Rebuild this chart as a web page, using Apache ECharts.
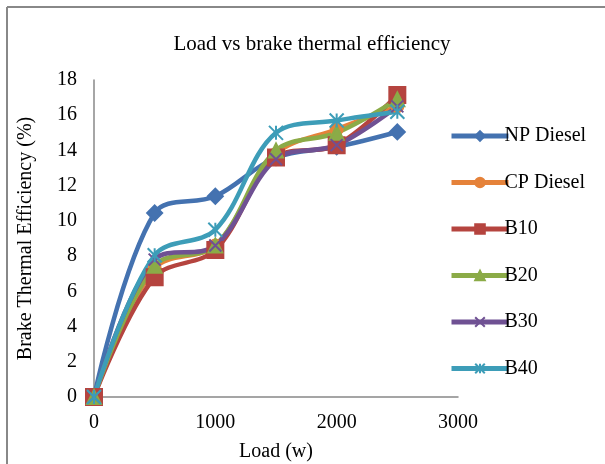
<!DOCTYPE html>
<html>
<head>
<meta charset="utf-8">
<script src="https://cdn.jsdelivr.net/npm/echarts@6/dist/echarts.min.js"></script>
<style>
  html, body { margin: 0; padding: 0; background: #fff; }
  #chart { width: 605px; height: 464px; }
</style>
</head>
<body>
<div id="chart"></div>
<script>
// load steps (w)
const loads = [0, 500, 1000, 1500, 2000, 2500];

// brake thermal efficiency (%) per fuel
const npDiesel = [0, 10.45, 11.4, 13.6, 14.2, 15.05];
const cpDiesel = [0, 7.3, 8.6, 13.8, 15.2, 16.5];
const b10 = [0, 6.8, 8.35, 13.6, 14.3, 17.15];
const b20 = [0, 7.45, 8.6, 14.0, 15.0, 16.9];
const b30 = [0, 7.8, 8.6, 13.5, 14.3, 16.5];
const b40 = [0, 8.05, 9.5, 15.0, 15.7, 16.2];

const seriesDefs = [
    { name: 'NP Diesel', data: npDiesel, color: '#4472b0', symbol: 'diamond', size: 15 },
    { name: 'CP Diesel', data: cpDiesel, color: '#e5823a', symbol: 'circle', size: 12 },
    { name: 'B10', data: b10, color: '#b5443f', symbol: 'rect', size: 16 },
    { name: 'B20', data: b20, color: '#8bab47', symbol: 'triangle', size: 14 },
    { name: 'B30', data: b30, color: '#6f5193', symbol: 'path://M0,0L10,10M10,0L0,10', size: 12 },
    { name: 'B40', data: b40, color: '#3d9db8', symbol: 'path://M0,0L10,10M10,0L0,10M5,0L5,10', size: 14 },
];

const fontFamily = '"Liberation Serif", "DejaVu Serif", serif';
const fontSize = 20;

const chart = echarts.init(document.getElementById('chart'));

chart.setOption({
    animation: false,
    backgroundColor: '#fff',
    textStyle: { fontFamily: fontFamily, color: '#000' },
    title: {
        text: 'Load vs brake thermal efficiency',
        left: 307,
        top: 29,
        textAlign: 'center',
        textStyle: { fontFamily: fontFamily, fontSize: 21, fontWeight: 'normal', color: '#000' },
    },
    grid: { left: 94, right: 147, top: 80, bottom: 67, outerBoundsMode: 'none' },
    legend: {
        orient: 'vertical',
        left: 444,
        top: 121,
        itemWidth: 57,
        itemHeight: 12,
        itemGap: 26.5,
        lineStyle: { width: 5 },
        textStyle: { fontFamily: fontFamily, fontSize: fontSize, color: '#000', padding: [0, 0, 0, -9] },
        data: seriesDefs.map((s) => s.name),
    },
    xAxis: {
        type: 'value',
        min: 0,
        max: 3000,
        interval: 1000,
        name: 'Load (w)',
        nameLocation: 'middle',
        nameGap: 45,
        nameTextStyle: { fontFamily: fontFamily, fontSize: fontSize, color: '#000' },
        axisLine: { show: true, lineStyle: { color: '#888', width: 1.5 } },
        axisTick: { show: false },
        splitLine: { show: false },
        axisLabel: {
            fontFamily: fontFamily, fontSize: fontSize, color: '#000', margin: 16,
            formatter: (v) => String(v),
        },
    },
    yAxis: {
        type: 'value',
        min: 0,
        max: 18,
        interval: 2,
        name: 'Brake Thermal Efficiency (%)',
        nameLocation: 'middle',
        nameGap: 58,
        nameTextStyle: { fontFamily: fontFamily, fontSize: fontSize, color: '#000' },
        axisLine: { show: true, lineStyle: { color: '#888', width: 1.5 } },
        axisTick: { show: false },
        splitLine: { show: false },
        axisLabel: { fontFamily: fontFamily, fontSize: fontSize, color: '#000', margin: 17 },
    },
    graphic: [
        { type: 'line', shape: { x1: 7, y1: 7, x2: 605, y2: 7 }, style: { stroke: '#888', lineWidth: 2 } },
        { type: 'line', shape: { x1: 7, y1: 7, x2: 7, y2: 464 }, style: { stroke: '#888', lineWidth: 2 } },
    ],
    series: seriesDefs.map((s) => ({
        name: s.name,
        type: 'line',
        smooth: 0.35,
        data: loads.map((x, i) => [x, s.data[i]]),
        symbol: s.symbol,
        symbolSize: s.size,
        lineStyle: { color: s.color, width: 4.5 },
        itemStyle: { color: s.color, borderColor: s.color, borderWidth: 2 },
    })),
});
</script>
</body>
</html>
